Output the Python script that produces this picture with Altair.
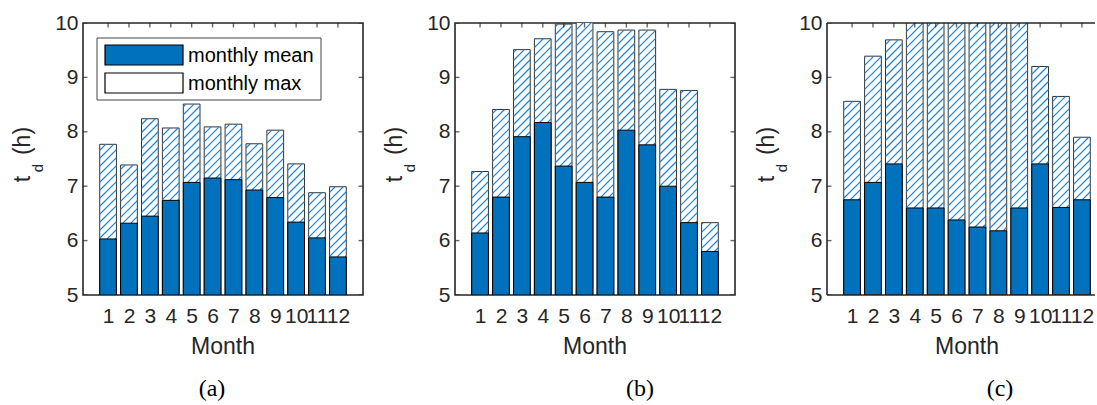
import altair as alt
import numpy as np
import pandas as pd

# ---- data ----
months = list(range(1, 13))
y_ticks = [5, 6, 7, 8, 9, 10]
series_names = ["monthly mean", "monthly max"]

mean_a = [6.03, 6.32, 6.45, 6.74, 7.07, 7.15, 7.12, 6.93, 6.79, 6.34, 6.05, 5.70]
max_a = [7.77, 7.39, 8.24, 8.07, 8.51, 8.09, 8.14, 7.78, 8.03, 7.41, 6.88, 6.99]

mean_b = [6.14, 6.80, 7.91, 8.17, 7.37, 7.07, 6.80, 8.03, 7.76, 7.00, 6.33, 5.80]
max_b = [7.27, 8.41, 9.51, 9.71, 9.98, 10.2, 9.84, 9.87, 9.87, 8.78, 8.76, 6.33]

mean_c = [6.75, 7.07, 7.41, 6.60, 6.60, 6.38, 6.25, 6.18, 6.60, 7.41, 6.61, 6.75]
max_c = [8.56, 9.39, 9.69, 10.6, 10.8, 10.7, 10.9, 10.7, 10.5, 9.20, 8.65, 7.90]

panel_tags = ["(a)", "(b)", "(c)"]

# ---- styling ----
W, H = 280, 272
X_LO, X_HI = -0.2, 13.2
PX_PER_X = W / (X_HI - X_LO)
W_C = 268  # last panel is cut by the figure's right edge
YDOM = [5, 10]
HALF = 0.4
BLUE = "#0072BD"
HATCH = "#1f84d4"
TXT = "#262626"
FONT = "Liberation Sans"
HATCH_SPACING = 8.0
FRAME_W = 1.6


def hatch_segments(mean, mx):
    sx = PX_PER_X
    sy = H / (YDOM[1] - YDOM[0])
    rows = []
    for m, lo, hi in zip(months, mean, mx):
        X0 = (m - HALF - X_LO) * sx
        X1 = (m + HALF - X_LO) * sx
        Y0 = (lo - YDOM[0]) * sy
        Y1 = (hi - YDOM[0]) * sy
        for c in np.arange(-2 * W, 2 * H, HATCH_SPACING):
            xa = max(X0, Y0 - c)
            xb = min(X1, Y1 - c)
            if xb > xa + 0.3:
                rows.append({
                    "hx": xa / sx + X_LO, "hy": (xa + c) / sy + YDOM[0],
                    "hx2": xb / sx + X_LO, "hy2": (xb + c) / sy + YDOM[0],
                })
    return pd.DataFrame(rows)


color_scale = alt.Scale(domain=series_names, range=[BLUE, "#ffffff"])
yscale = alt.Scale(domain=YDOM, nice=False, zero=False)

x_axis = alt.Axis(
    values=months, format="d", title=None, ticks=False, domain=False,
    grid=False, labelPadding=10, labelOverlap=False, labelFontSize=21,
    labelFont=FONT, labelColor=TXT, labelFlush=False,
)
y_axis = alt.Axis(
    values=y_ticks, format="d", title=None, ticks=False, domain=False,
    grid=False, labelPadding=5, labelFontSize=21, labelFont=FONT,
    labelColor=TXT, labelOverlap=False, labelFlush=False,
)


def legend_layers():
    out = []
    rows = [(series_names[0], 22, 42), (series_names[1], 50, 70)]
    box = alt.Chart(pd.DataFrame({"k": [0]})).mark_rect(
        fill="white", stroke="#444444", strokeWidth=1
    ).encode(x=alt.value(14), x2=alt.value(238), y=alt.value(15), y2=alt.value(77))
    out.append(box)
    for name, y0, y1 in rows:
        d = pd.DataFrame({"series": [name]})
        sym = alt.Chart(d).mark_rect(stroke="black", strokeWidth=1.2).encode(
            x=alt.value(22), x2=alt.value(100), y=alt.value(y0), y2=alt.value(y1),
            color=alt.Color("series:N", scale=color_scale, legend=None),
        )
        lab = alt.Chart(d).mark_text(
            fontSize=20, font=FONT, color="black", align="left", baseline="middle"
        ).encode(x=alt.value(105), y=alt.value((y0 + y1) / 2 + 1), text="series:N")
        out += [sym, lab]
    return out


def panel(mean, mx, tag, tag_x, show_legend, width=W, cut=False):
    df = pd.DataFrame({"month": months, "mean": mean, "max": mx})
    xscale = alt.Scale(domain=[X_LO, X_LO + width / PX_PER_X], nice=False, zero=False)

    base = alt.Chart(df).transform_calculate(
        x0=f"datum.month - {HALF}", x1=f"datum.month + {HALF}", base="5"
    )

    max_bars = base.transform_calculate(series="'monthly max'").mark_rect(
        stroke="#333333", strokeWidth=1, clip=True
    ).encode(
        x=alt.X("x0:Q", scale=xscale, axis=x_axis),
        x2="x1:Q",
        y=alt.Y("base:Q", scale=yscale, axis=y_axis),
        y2="max:Q",
        color=alt.Color("series:N", scale=color_scale, legend=None),
    )

    hatch = alt.Chart(hatch_segments(mean, mx)).mark_rule(
        stroke=HATCH, strokeWidth=1.2, clip=True
    ).encode(
        x=alt.X("hx:Q", scale=xscale, axis=x_axis),
        x2="hx2:Q",
        y=alt.Y("hy:Q", scale=yscale, axis=y_axis),
        y2="hy2:Q",
    )

    mean_bars = base.transform_calculate(series="'monthly mean'").mark_rect(
        stroke="black", strokeWidth=1, clip=True
    ).encode(
        x=alt.X("x0:Q", scale=xscale, axis=x_axis),
        x2="x1:Q",
        y=alt.Y("base:Q", scale=yscale, axis=y_axis),
        y2="mean:Q",
        color=alt.Color("series:N", scale=color_scale, legend=None),
    )

    mdf = pd.DataFrame({"month": months})
    ydf = pd.DataFrame({"v": y_ticks})
    tick_kw = dict(color=TXT, size=9, thickness=1.4, clip=True)
    top_ticks = alt.Chart(mdf).mark_tick(**tick_kw).encode(
        x=alt.X("month:Q", scale=xscale, axis=x_axis), y=alt.value(0))
    left_ticks = alt.Chart(ydf).mark_tick(**tick_kw).encode(
        y=alt.Y("v:Q", scale=yscale, axis=y_axis), x=alt.value(0))
    right_ticks = alt.Chart(ydf).mark_tick(**tick_kw).encode(
        y=alt.Y("v:Q", scale=yscale, axis=y_axis), x=alt.value(width))

    one = alt.Chart(pd.DataFrame({"k": [0]}))
    t_main = one.mark_text(text="t", angle=270, fontSize=23, font=FONT,
                           color=TXT, align="center", baseline="alphabetic"
                           ).encode(x=alt.value(-53), y=alt.value(156))
    t_sub = one.mark_text(text="d", angle=270, fontSize=15, font=FONT,
                          color=TXT, align="center", baseline="alphabetic"
                          ).encode(x=alt.value(-40), y=alt.value(145))
    t_unit = one.mark_text(text="(h)", angle=270, fontSize=23, font=FONT,
                           color=TXT, align="center", baseline="alphabetic"
                           ).encode(x=alt.value(-53), y=alt.value(118))
    month_title = one.mark_text(text="Month", fontSize=23, font=FONT,
                                color=TXT, align="center", baseline="alphabetic"
                                ).encode(x=alt.value(W / 2), y=alt.value(H + 59))
    tag_text = one.mark_text(text=tag, fontSize=24, font="Liberation Serif",
                             color="black", align="center", baseline="alphabetic"
                             ).encode(x=alt.value(tag_x), y=alt.value(H + 101))

    layers = [max_bars, hatch, mean_bars, top_ticks, left_ticks]
    if not cut:
        layers.append(right_ticks)
    else:
        rule_kw = dict(color=TXT, strokeWidth=FRAME_W)
        layers += [
            one.mark_rule(**rule_kw).encode(x=alt.value(0), x2=alt.value(width), y=alt.value(0)),
            one.mark_rule(**rule_kw).encode(x=alt.value(0), x2=alt.value(width), y=alt.value(H)),
            one.mark_rule(**rule_kw).encode(x=alt.value(0), y=alt.value(0), y2=alt.value(H)),
        ]
    layers += [t_main, t_sub, t_unit, month_title, tag_text]
    if show_legend:
        layers += legend_layers()
    ch = alt.layer(*layers).properties(width=width, height=H)
    if cut:
        ch = ch.properties(view=alt.ViewBackground(stroke="transparent", strokeWidth=0))
    return ch


pa = panel(mean_a, max_a, panel_tags[0], 129, True)
pb = panel(mean_b, max_b, panel_tags[1], 185, False)
pc = panel(mean_c, max_c, panel_tags[2], 173, False, width=W_C, cut=True)

chart = alt.hconcat(pa, pb, pc, spacing=92, bounds="flush").properties(
    padding={"left": 11, "top": 11, "right": 0, "bottom": 0}
).configure(
    background="white"
).configure_view(
    stroke=TXT, strokeWidth=FRAME_W
)

chart.save("out.html", embed_options={"renderer": "svg", "actions": False})
